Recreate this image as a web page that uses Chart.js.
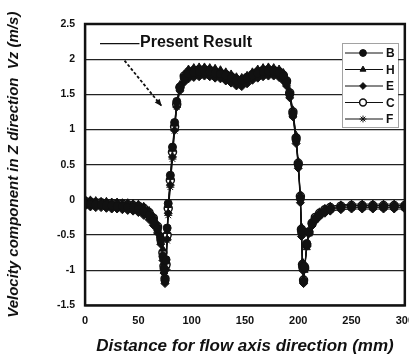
<!DOCTYPE html>
<html>
<head>
<meta charset="utf-8">
<script src="https://cdn.jsdelivr.net/npm/chart.js@4.4.0/dist/chart.umd.min.js"></script>
<style>
  html, body { margin: 0; padding: 0; overflow: hidden; background: #fff; }
  #velChart { display: block; }
</style>
</head>
<body>
<canvas id="velChart" width="423" height="358"></canvas>
<script>
// distance along the flow axis (mm)
var distance = [0,5,10,15,20,25,30,35,40,45,
  50,55,60,64,68,71,73,74,75,76,
  77,78,80,82,84,86,89,93,97,102,
  107,112,117,122,127,132,137,142,147,152,
  157,162,167,172,177,182,186,189,192,195,
  198,200,202,203,204,205,206,208,210,213,
  216,220,225,230,240,250,260,270,280,290,
  300];

// Vz (m/s) for each measured case
var velB = [-0.05,-0.06,-0.07,-0.07,-0.08,-0.08,-0.09,-0.09,-0.10,-0.11,
  -0.13,-0.16,-0.22,-0.30,-0.41,-0.57,-0.80,-0.98,-1.15,-0.85,
  -0.40,-0.05,0.35,0.75,1.10,1.40,1.60,1.73,1.79,1.81,
  1.82,1.83,1.82,1.80,1.79,1.77,1.74,1.70,1.70,1.73,
  1.77,1.80,1.82,1.83,1.83,1.81,1.76,1.67,1.50,1.22,
  0.85,0.50,0.02,-0.45,-0.95,-1.16,-0.95,-0.62,-0.45,-0.34,
  -0.27,-0.21,-0.16,-0.13,-0.11,-0.10,-0.10,-0.10,-0.10,-0.10,
  -0.10];
var velH = [0.01,0.00,-0.01,-0.02,-0.02,-0.03,-0.03,-0.04,-0.04,-0.05,
  -0.06,-0.09,-0.15,-0.23,-0.35,-0.50,-0.70,-0.90,-1.08,-0.88,
  -0.45,-0.08,0.32,0.72,1.08,1.40,1.64,1.79,1.86,1.88,
  1.89,1.89,1.88,1.87,1.85,1.82,1.79,1.75,1.74,1.77,
  1.82,1.86,1.88,1.89,1.88,1.86,1.81,1.72,1.55,1.28,
  0.92,0.55,0.08,-0.38,-0.88,-1.12,-1.00,-0.68,-0.48,-0.33,
  -0.24,-0.17,-0.12,-0.09,-0.07,-0.06,-0.06,-0.06,-0.06,-0.06,
  -0.06];
var velE = [-0.09,-0.10,-0.11,-0.11,-0.12,-0.13,-0.13,-0.14,-0.15,-0.16,
  -0.18,-0.22,-0.28,-0.36,-0.47,-0.63,-0.86,-1.04,-1.19,-0.99,
  -0.56,-0.19,0.21,0.61,0.99,1.32,1.55,1.67,1.72,1.74,
  1.75,1.76,1.75,1.73,1.72,1.69,1.66,1.62,1.61,1.65,
  1.70,1.73,1.75,1.76,1.76,1.74,1.69,1.62,1.45,1.18,
  0.80,0.45,-0.04,-0.52,-1.00,-1.19,-0.99,-0.66,-0.48,-0.37,
  -0.30,-0.24,-0.19,-0.16,-0.14,-0.13,-0.13,-0.13,-0.13,-0.13,
  -0.13];
var velC = [-0.02,-0.03,-0.04,-0.04,-0.05,-0.05,-0.06,-0.06,-0.07,-0.08,
  -0.09,-0.12,-0.18,-0.26,-0.38,-0.53,-0.75,-0.94,-1.12,-0.92,
  -0.50,-0.12,0.28,0.68,1.04,1.36,1.60,1.76,1.82,1.84,
  1.85,1.85,1.84,1.82,1.80,1.78,1.75,1.71,1.70,1.74,
  1.78,1.82,1.84,1.85,1.84,1.82,1.77,1.69,1.52,1.25,
  0.88,0.52,0.05,-0.42,-0.92,-1.14,-0.97,-0.64,-0.46,-0.33,
  -0.25,-0.19,-0.14,-0.11,-0.09,-0.08,-0.08,-0.08,-0.08,-0.08,
  -0.08];
var velF = [-0.07,-0.08,-0.09,-0.09,-0.10,-0.10,-0.11,-0.11,-0.12,-0.13,
  -0.15,-0.19,-0.25,-0.33,-0.44,-0.60,-0.82,-1.00,-1.16,-0.96,
  -0.58,-0.22,0.18,0.58,0.98,1.32,1.57,1.72,1.77,1.79,
  1.80,1.81,1.80,1.78,1.77,1.75,1.71,1.67,1.67,1.70,
  1.75,1.78,1.80,1.81,1.81,1.79,1.74,1.65,1.48,1.20,
  0.83,0.48,0.00,-0.48,-0.97,-1.17,-0.99,-0.66,-0.48,-0.36,
  -0.28,-0.22,-0.17,-0.14,-0.12,-0.11,-0.11,-0.11,-0.11,-0.11,
  -0.11];
// computed profile (thin line)
var velPresent = [-0.01,-0.02,-0.02,-0.03,-0.03,-0.04,-0.04,-0.05,-0.05,-0.06,
  -0.07,-0.09,-0.12,-0.18,-0.30,-0.48,-0.70,-0.90,-1.08,-0.92,
  -0.50,-0.12,0.28,0.68,1.05,1.36,1.60,1.76,1.82,1.84,
  1.85,1.86,1.85,1.83,1.81,1.79,1.76,1.72,1.71,1.74,
  1.79,1.83,1.85,1.86,1.85,1.83,1.78,1.70,1.53,1.26,
  0.90,0.54,0.06,-0.40,-0.90,-1.10,-0.95,-0.62,-0.45,-0.33,
  -0.26,-0.20,-0.15,-0.12,-0.09,-0.08,-0.08,-0.08,-0.08,-0.08,
  -0.08];

var caseNames = ['B', 'H', 'E', 'C', 'F'];
var caseValues = [velB, velH, velE, velC, velF];
var caseStyles = ['circle', 'triangle', 'rectRot', 'circle', 'star'];

var FONT = '"Liberation Sans", Arial, sans-serif';
var INK = '#111';

function toPoints(ys) {
  return distance.map(function(x, i) { return { x: x, y: ys[i] }; });
}

var datasets = caseNames.map(function(name, i) {
  return {
    label: name,
    data: toPoints(caseValues[i]),
    showLine: true,
    borderColor: INK,
    borderWidth: 1,
    backgroundColor: i === 3 ? '#fff' : INK,
    pointBackgroundColor: i === 3 ? '#fff' : INK,
    pointBorderColor: INK,
    pointBorderWidth: i === 3 ? 1.5 : 1,
    pointStyle: caseStyles[i],
    pointRadius: 4,
    inLegend: true
  };
});
datasets.push({
  label: 'Present Result',
  data: toPoints(velPresent),
  showLine: true,
  borderColor: INK,
  borderWidth: 1,
  pointRadius: 0,
  inLegend: false
});

// frame round the plot, legend box and the "Present Result" callout
var decorations = {
  id: 'decorations',
  afterDraw: function(chart) {
    var ctx = chart.ctx, a = chart.chartArea;
    var sx = chart.scales.x, sy = chart.scales.y;
    ctx.save();
    ctx.strokeStyle = INK;
    ctx.lineWidth = 2.5;
    ctx.strokeRect(a.left, a.top, a.right - a.left, a.bottom - a.top);

    // callout
    ctx.lineWidth = 1.2;
    ctx.beginPath();
    ctx.moveTo(sx.getPixelForValue(14), sy.getPixelForValue(2.22));
    ctx.lineTo(sx.getPixelForValue(51), sy.getPixelForValue(2.22));
    ctx.stroke();
    ctx.fillStyle = INK;
    ctx.font = 'bold 16px ' + FONT;
    ctx.textBaseline = 'middle';
    ctx.textAlign = 'left';
    ctx.fillText('Present Result', sx.getPixelForValue(51.5), sy.getPixelForValue(2.23));

    var ax0 = sx.getPixelForValue(37), ay0 = sy.getPixelForValue(1.98);
    var ax1 = sx.getPixelForValue(72), ay1 = sy.getPixelForValue(1.33);
    ctx.lineWidth = 1.8;
    ctx.setLineDash([3, 2]);
    ctx.beginPath();
    ctx.moveTo(ax0, ay0);
    ctx.lineTo(ax1, ay1);
    ctx.stroke();
    ctx.setLineDash([]);
    var ang = Math.atan2(ay1 - ay0, ax1 - ax0);
    ctx.beginPath();
    ctx.moveTo(ax1, ay1);
    ctx.lineTo(ax1 - 8 * Math.cos(ang - 0.4), ay1 - 8 * Math.sin(ang - 0.4));
    ctx.lineTo(ax1 - 8 * Math.cos(ang + 0.4), ay1 - 8 * Math.sin(ang + 0.4));
    ctx.closePath();
    ctx.fill();

    // legend
    var bx = 342, by = 43, bw = 56, bh = 84;
    ctx.fillStyle = '#fff';
    ctx.fillRect(bx, by, bw, bh);
    ctx.strokeStyle = '#444';
    ctx.lineWidth = 1;
    ctx.setLineDash([1, 1]);
    ctx.strokeRect(bx + 0.5, by + 0.5, bw, bh);
    ctx.setLineDash([]);
    ctx.font = 'bold 12px ' + FONT;
    var row = 0;
    chart.data.datasets.forEach(function(ds) {
      if (!ds.inLegend) return;
      var y = by + 10 + row * 16.5;
      ctx.strokeStyle = INK;
      ctx.lineWidth = 1;
      ctx.beginPath();
      ctx.moveTo(bx + 3, y);
      ctx.lineTo(bx + 41, y);
      ctx.stroke();
      ctx.fillStyle = ds.pointBackgroundColor;
      ctx.lineWidth = ds.pointBorderWidth;
      Chart.helpers.drawPoint(ctx, { pointStyle: ds.pointStyle, radius: 3.4, rotation: 0, borderWidth: ds.pointBorderWidth }, bx + 21, y);
      ctx.fillStyle = INK;
      ctx.fillText(ds.label, bx + 44, y + 1);
      row++;
    });
    ctx.restore();
  }
};

new Chart(document.getElementById('velChart').getContext('2d'), {
  type: 'scatter',
  data: { datasets: datasets },
  options: {
    responsive: false,
    animation: false,
    layout: { padding: { left: 5, top: 24, right: 0, bottom: 1 } },
    plugins: { legend: { display: false }, tooltip: { enabled: false } },
    elements: { line: { tension: 0 } },
    scales: {
      x: {
        type: 'linear', min: 0, max: 300,
        grid: { display: false, drawTicks: false },
        border: { display: false },
        ticks: { stepSize: 50, color: INK, padding: 9, font: { family: FONT, size: 11, weight: 'bold' } },
        title: { display: true, text: 'Distance for flow axis direction (mm)', color: INK,
          font: { family: FONT, size: 17, weight: 'bold', style: 'italic' }, padding: { top: 0, bottom: 0 } }
      },
      y: {
        min: -1.5, max: 2.5,
        grid: { color: '#222', lineWidth: 1.2, drawTicks: false },
        border: { display: false },
        ticks: { stepSize: 0.5, color: INK, padding: 10, font: { family: FONT, size: 10.5, weight: 'bold' },
          callback: function(v) { return String(v); } },
        title: { display: true, text: 'Velocity component in Z direction  Vz (m/s)', color: INK,
          font: { family: FONT, size: 15, weight: 'bold', style: 'italic' }, padding: { top: 0, bottom: 24 } }
      }
    }
  },
  plugins: [decorations]
});
</script>
</body>
</html>
